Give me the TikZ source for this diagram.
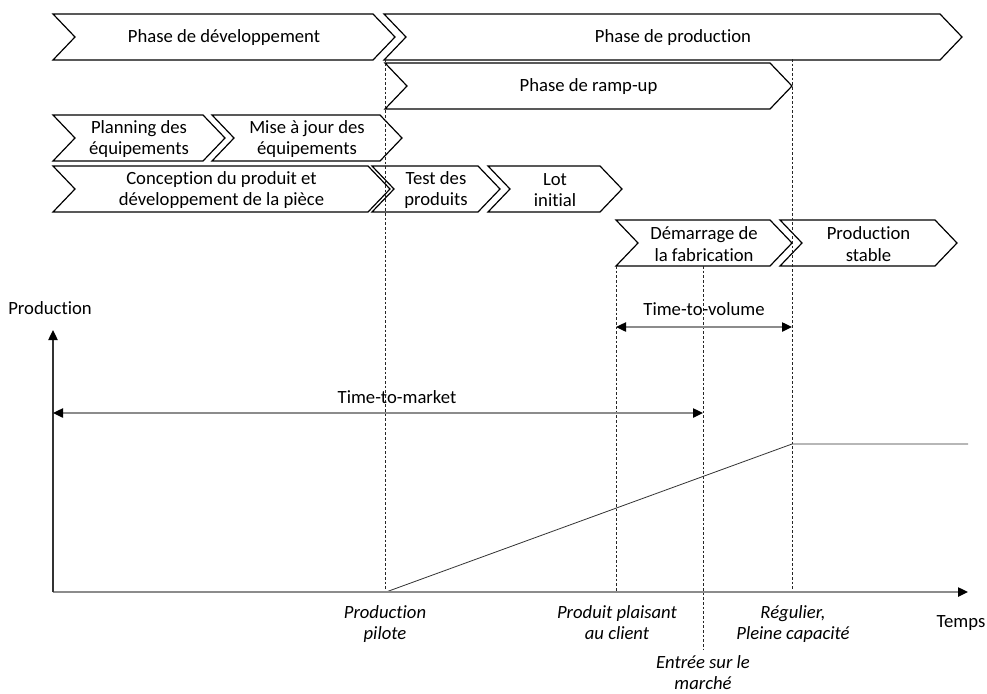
\documentclass[tikz,border=0pt]{standalone}
\usepackage{fontspec}
\setmainfont{Carlito}[Ligatures=NoCommon]
\usetikzlibrary{arrows.meta}
\newcommand\mychev[5]{%
  \draw[chevline] (#2,#4) -- (#3,#4) -- ++(22,23) -- ++(-22,23) -- (#2,#4+46) -- ++(22,-23) -- cycle;
  \node[chevtext] (#1) at ({(#2+#3+22)/2},{#4+24}) {#5};
}
\begin{document}
\begin{tikzpicture}[x=0.75pt,y=-0.75pt,
  chevline/.style={line width=0.9pt, line join=miter, black},
  chevtext/.style={align=center, inner sep=0pt, font=\fontsize{14}{16}\selectfont},
  lbl/.style={align=center, inner sep=0pt, font=\fontsize{14}{16}\selectfont},
  ilbl/.style={align=center, inner sep=0pt, font=\fontsize{14}{16}\selectfont\itshape},
  guide/.style={line width=0.45pt, black!85, dash pattern=on 2pt off 1.5pt},
  arr/.style={line width=1pt, black!45, -{Triangle[length=7.5pt,width=7pt,color=black]}},
  darr/.style={line width=1pt, black!45, {Triangle[length=7.5pt,width=7pt,color=black]}-{Triangle[length=7.5pt,width=7pt,color=black]}},
  curve/.style={line width=0.6pt, black!80}]
\useasboundingbox (0,0) rectangle (987,693);
\fill[white] (0,0) rectangle (987,693);

% chevrons
\mychev{dev}{53}{373}{14}{Phase de développement}
\mychev{prod}{384}{940}{14}{Phase de production}
\mychev{ramp}{385}{770}{63}{Phase de ramp-up}
\mychev{plan}{53}{203}{115}{Planning des\\équipements}
\mychev{maj}{212}{380}{115}{Mise à jour des\\équipements}
\mychev{conc}{53}{368}{166}{Conception du produit et\\développement de la pièce}
\mychev{test}{372}{478}{166}{Test des\\produits}
\mychev{lot}{488}{600}{166}{Lot\\initial}
\mychev{dem}{616}{770}{220}{Démarrage de\\la fabrication}
\mychev{stab}{780}{935}{220}{Production\\stable}

% guide coordinates
\coordinate (o) at (53,592);
\coordinate (ytop) at (53,330);
\coordinate (xend) at (968,592);
\coordinate (g1t) at (385,59);
\coordinate (g1b) at (385,592);
\coordinate (g2t) at (616,266);
\coordinate (g2b) at (616,592);
\coordinate (g3t) at (703,266);
\coordinate (g3b) at (703,650);
\coordinate (g4t) at (792,59);
\coordinate (g4b) at (792,592);

% dashed guides
\draw[guide] (g1t) -- (g1b);
\draw[guide] (g2t) -- (g2b);
\draw[guide] (g3t) -- (g3b);
\draw[guide] (g4t) -- (g4b);

% production curve
\coordinate (c1) at (386,592);
\coordinate (c2) at (792,444);
\coordinate (c3) at (968,444);
\draw[curve] (c1) -- (c2) -- (c3);

% axes
\draw[arr] (o) -- (xend);
\draw[line width=1pt, black!80, -{Triangle[length=7.5pt,width=7pt,color=black]}] (o) -- (ytop);

% time arrows
\coordinate (tmL) at (53,413);
\coordinate (tmR) at (703,413);
\draw[darr] (tmL) -- (tmR);
\coordinate (tvL) at (616,327);
\coordinate (tvR) at (792,327);
\draw[darr] (tvL) -- (tvR);

% labels
\node[lbl] (ttm) at (397,397) {Time-to-market};
\node[lbl] (ttv) at (704,309) {Time-to-volume};
\node[lbl] (yl) at (50,308) {Production};
\node[lbl] (xl) at (961,623) {Temps};

\node[ilbl, anchor=north] (m1) at (385,605) {Production\\pilote};
\node[ilbl, anchor=north] (m2) at (617,605) {Produit plaisant\\au client};
\node[ilbl, anchor=north] (m3) at (703,655) {Entrée sur le\\marché};
\node[ilbl, anchor=north] (m4) at (793,605) {Régulier,\\Pleine capacité};
\end{tikzpicture}
\end{document}
